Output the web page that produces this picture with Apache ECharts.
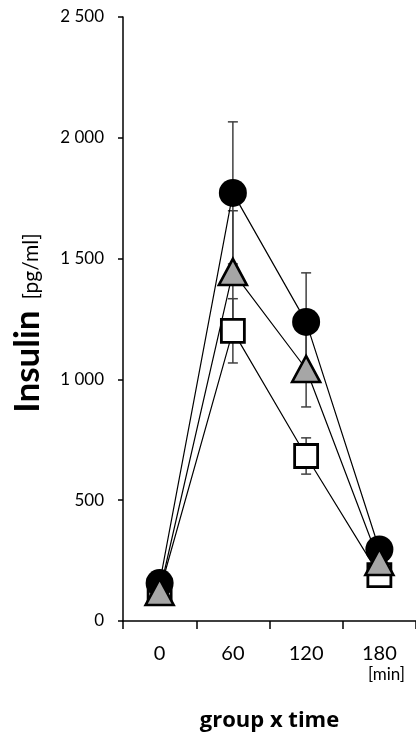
<!DOCTYPE html>
<html>
<head>
<meta charset="utf-8">
<script src="https://cdn.jsdelivr.net/npm/echarts@6/dist/echarts.min.js"></script>
<style>
  html, body { margin: 0; padding: 0; background: #fff; }
  #chart { width: 416px; height: 741px; }
</style>
</head>
<body>
<div id="chart"></div>
<script>
// Sampling times (min)
const timeLabels = ['0', '60', '120', '180'];

// Group means and error bars (pg/ml)
const circleMean = [157, 1772, 1238, 296];
const circleErr = [20, 294, 203, 30];

const triangleMean = [120, 1445, 1043, 244];
const triangleErr = [15, 253, 157, 25];

const squareMean = [122, 1201, 683, 190];
const squareErr = [15, 133, 75, 20];

// Y axis ticks
const yMin = 0, yMax = 2500, yStep = 500;

const FONT = 'Lato, "Open Sans", sans-serif';

function fmtThousands(v) {
  return String(v).replace(/\B(?=(\d{3})+(?!\d))/g, ' ');
}

function errorData(mean, err) {
  return mean.map((m, i) => [i, m - err[i], m + err[i]]);
}

function errorSeries(mean, err, z) {
  return {
    type: 'custom',
    z: z,
    silent: true,
    data: errorData(mean, err),
    encode: { x: 0, y: [1, 2] },
    renderItem: function (params, api) {
      const x = api.value(0);
      const lo = api.coord([x, api.value(1)]);
      const hi = api.coord([x, api.value(2)]);
      const cap = 5;
      const style = { stroke: '#404040', lineWidth: 1.5 };
      return {
        type: 'group',
        children: [
          { type: 'line', shape: { x1: hi[0], y1: hi[1], x2: lo[0], y2: lo[1] }, style: style },
          { type: 'line', shape: { x1: hi[0] - cap, y1: hi[1], x2: hi[0] + cap, y2: hi[1] }, style: style },
          { type: 'line', shape: { x1: lo[0] - cap, y1: lo[1], x2: lo[0] + cap, y2: lo[1] }, style: style }
        ]
      };
    }
  };
}

const chart = echarts.init(document.getElementById('chart'), null, { renderer: 'canvas' });

chart.setOption({
  animation: false,
  backgroundColor: '#fff',
  grid: { left: 123, right: -5, top: 17, bottom: 120, containLabel: false },
  xAxis: {
    type: 'category',
    data: timeLabels,
    boundaryGap: true,
    axisLine: { lineStyle: { color: '#000', width: 1.5 } },
    axisTick: { show: true, inside: false, length: 8, alignWithLabel: false, lineStyle: { color: '#000', width: 1.5 } },
    axisLabel: { color: '#000', fontFamily: FONT, fontSize: 20, margin: 23 },
    splitLine: { show: false },
    name: 'group x time',
    nameLocation: 'middle',
    nameGap: 89,
    nameTextStyle: { color: '#000', fontFamily: '"Open Sans", sans-serif', fontWeight: 'bold', fontSize: 22 }
  },
  yAxis: {
    type: 'value',
    min: yMin,
    max: yMax,
    interval: yStep,
    axisLine: { show: true, lineStyle: { color: '#000', width: 1.5 } },
    axisTick: { show: true, inside: false, length: 5, lineStyle: { color: '#000', width: 1.5 } },
    axisLabel: { color: '#000', fontFamily: FONT, fontSize: 17, margin: 19, formatter: fmtThousands },
    splitLine: { show: false },
    name: '{a|Insulin}{b|[pg/ml]}',
    nameLocation: 'middle',
    nameRotate: 90,
    nameGap: 78,
    nameTextStyle: {
      padding: [0, 8, 0, 0],
      rich: {
        a: { fontFamily: FONT, fontWeight: 'bold', fontSize: 35, color: '#000', verticalAlign: 'bottom', lineHeight: 36 },
        b: { fontFamily: FONT, fontSize: 21, color: '#000', verticalAlign: 'bottom', lineHeight: 36, padding: [0, 0, 3, 11] }
      }
    }
  },
  graphic: [
    {
      type: 'text',
      left: 368,
      top: 666,
      style: { text: '[min]', fill: '#000', font: '17px ' + FONT }
    }
  ],
  series: [
    errorSeries(squareMean, squareErr, 2),
    errorSeries(circleMean, circleErr, 2),
    errorSeries(triangleMean, triangleErr, 2),
    {
      name: 'square',
      type: 'line',
      z: 3,
      data: squareMean,
      symbol: 'rect',
      symbolSize: 23,
      lineStyle: { color: '#000', width: 1.2 },
      itemStyle: { color: '#fff', borderColor: '#000', borderWidth: 2.8 }
    },
    {
      name: 'circle',
      type: 'line',
      z: 4,
      data: circleMean,
      symbol: 'circle',
      symbolSize: 28,
      lineStyle: { color: '#000', width: 1.2 },
      itemStyle: { color: '#000', borderColor: '#000', borderWidth: 0 }
    },
    {
      name: 'triangle',
      type: 'line',
      z: 5,
      data: triangleMean,
      symbol: 'triangle',
      symbolSize: [28, 26],
      lineStyle: { color: '#000', width: 1.2 },
      itemStyle: { color: '#a6a6a6', borderColor: '#000', borderWidth: 2.6 }
    }
  ]
});
</script>
</body>
</html>
